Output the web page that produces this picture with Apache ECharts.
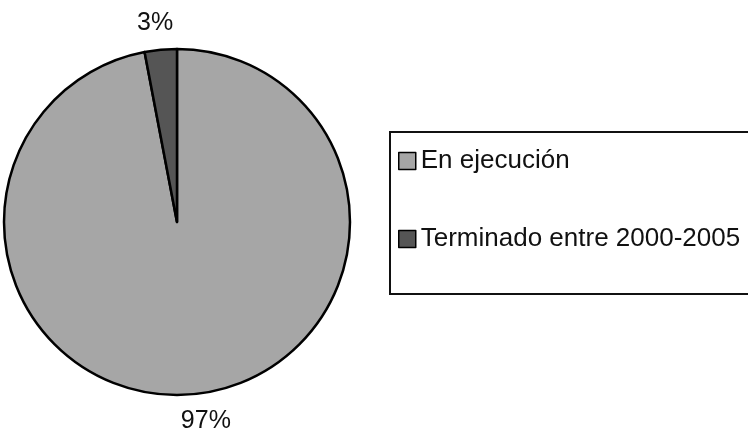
<!DOCTYPE html>
<html>
<head>
<meta charset="utf-8">
<script src="https://cdn.jsdelivr.net/npm/echarts@6/dist/echarts.min.js"></script>
<style>html,body{margin:0;padding:0;background:#fff}#c{width:748px;height:435px}</style>
</head>
<body>
<div id="c"></div>
<script>
var categories = ['En ejecución', 'Terminado entre 2000-2005'];
var values = [97, 3];
var colors = ['#a6a6a6', '#555555'];

var chart = echarts.init(document.getElementById('c'), null, {renderer: 'canvas'});
var data = categories.map(function (name, i) {
  return { name: name, value: values[i], itemStyle: { color: colors[i] } };
});
chart.setOption({
  animation: false,
  backgroundColor: '#ffffff',
  legend: {
    orient: 'vertical',
    left: 390,
    top: 132,
    padding: [16, 40, 42, 8],
    borderColor: '#111',
    borderWidth: 2,
    itemWidth: 17,
    itemHeight: 17,
    itemGap: 52,
    icon: 'rect',
    selectedMode: false,
    itemStyle: { borderColor: '#000', borderWidth: 1.5 },
    textStyle: { fontFamily: 'Liberation Sans, Arial, sans-serif', fontSize: 26, color: '#111' },
    data: categories
  },
  series: [{
    type: 'pie',
    center: [177, 222],
    radius: 173,
    startAngle: 90,
    clockwise: true,
    avoidLabelOverlap: false,
    itemStyle: { borderColor: '#000', borderWidth: 2.5 },
    label: {
      show: true,
      position: 'outside',
      formatter: '{c}%',
      fontFamily: 'Liberation Sans, Arial, sans-serif',
      fontSize: 25,
      color: '#111',
      distanceToLabelLine: -15
    },
    labelLine: { show: false, length: 27, length2: 0 },
    emphasis: { disabled: true },
    data: data
  }]
});
</script>
</body>
</html>
